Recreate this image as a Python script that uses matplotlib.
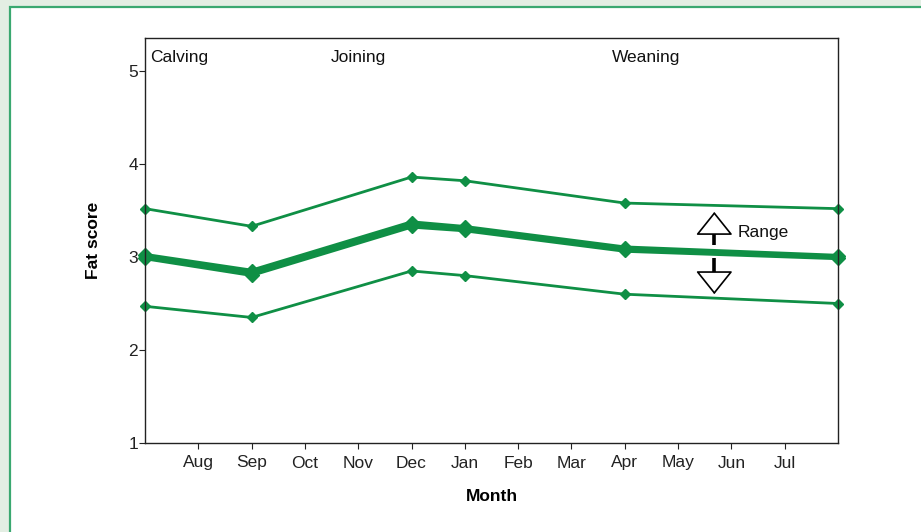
import matplotlib
matplotlib.use('Agg')
import matplotlib.pyplot as plt
from matplotlib.patches import Rectangle

plt.rcParams['font.family'] = ['Liberation Sans', 'DejaVu Sans']

months = ['Aug', 'Sep', 'Oct', 'Nov', 'Dec', 'Jan', 'Feb', 'Mar', 'Apr', 'May', 'Jun', 'Jul']
sample_x = [0, 2, 5, 6, 9, 13]  # month index, 0 = Jul (calving)
upper = [3.52, 3.33, 3.86, 3.82, 3.58, 3.52]
mean_hi = [3.02, 2.85, 3.37, 3.32, 3.10, 3.01]
mean_lo = [2.99, 2.81, 3.33, 3.29, 3.07, 2.99]
lower = [2.47, 2.35, 2.85, 2.80, 2.60, 2.50]
events = [('Calving', 0.1, 'left'), ('Joining', 4.0, 'center'), ('Weaning', 9.4, 'center')]

green = '#0f8f45'
fs = 12.5

fig = plt.figure(figsize=(9.21, 5.32), dpi=100)
fig.patch.set_facecolor('#e3eee3')
# white panel with green border
fig.patches.append(Rectangle((10 / 921, -0.05), 1.0, 1 - 7 / 532 + 0.05, transform=fig.transFigure,
                             facecolor='white', edgecolor='#3aa870', linewidth=1.6, zorder=-10))

ax = fig.add_axes([145 / 921, 1 - 443 / 532, (838 - 145) / 921, (443 - 38) / 532])
ax.set_zorder(5)
ax.patch.set_alpha(0)
ax.plot(sample_x, upper, color=green, lw=2, marker='D', ms=5, clip_on=False)
ax.plot(sample_x, lower, color=green, lw=2, marker='D', ms=5, clip_on=False)
ax.plot(sample_x, mean_hi, color=green, lw=3.2, marker='D', ms=7.5, clip_on=False)
ax.plot(sample_x, mean_lo, color=green, lw=3.2, marker='D', ms=7.5, clip_on=False)

ax.set_xlim(0, 13)
ax.set_ylim(1, 5.355)
ax.set_xticks(range(1, 13))
ax.set_xticklabels(months)
ax.set_yticks([1, 2, 3, 4, 5])
ax.tick_params(axis='both', labelsize=fs, length=4, width=0.8, colors='#222222')
ax.tick_params(axis='x', pad=5)
ax.tick_params(axis='y', pad=1)
for s in ax.spines.values():
    s.set_linewidth(1)
    s.set_color('#222222')

ax.set_xlabel('Month', fontsize=fs, fontweight='bold', labelpad=13)
ax.set_ylabel('Fat score', fontsize=fs, fontweight='bold', labelpad=20)

for name, xpos, ha in events:
    ax.text(xpos, 5.15, name, fontsize=fs, ha=ha, va='center', color='#111111')

# range indicator
rx = 10.68
ax.plot([rx, rx], [3.13, 3.26], color='black', lw=2.6, solid_capstyle='butt')
ax.plot([rx, rx], [2.84, 2.99], color='black', lw=2.6, solid_capstyle='butt')
head = dict(arrowstyle='-|>,head_length=1.5,head_width=1.2', mutation_scale=10,
            fc='white', ec='black', lw=1.2, shrinkA=0, shrinkB=0)
ax.annotate('', xy=(rx, 3.485), xytext=(rx, 3.25), arrowprops=head)
ax.annotate('', xy=(rx, 2.60), xytext=(rx, 2.85), arrowprops=head)
ax.text(11.12, 3.26, 'Range', fontsize=fs, ha='left', va='center', color='#111111')

fig.savefig('out.png', dpi=100, facecolor=fig.get_facecolor())
